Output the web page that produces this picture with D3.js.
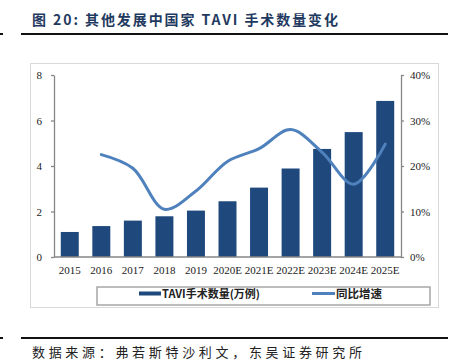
<!DOCTYPE html>
<html>
<head>
<meta charset="utf-8">
<script src="https://cdn.jsdelivr.net/npm/d3@7"></script>
<style>
  body { margin: 0; background: #fff; }
  svg { display: block; }
</style>
</head>
<body>
<svg width="449" height="364"></svg>
<script>
const years = ['2015', '2016', '2017', '2018', '2019', '2020E', '2021E', '2022E', '2023E', '2024E', '2025E'];
const volume = [1.10, 1.36, 1.60, 1.79, 2.04, 2.45, 3.05, 3.89, 4.75, 5.49, 6.86];
const growthYears = ['2016', '2017', '2018', '2019', '2020E', '2021E', '2022E', '2023E', '2024E', '2025E'];
const growth = [22.5, 19.5, 10.5, 14.5, 21.0, 23.8, 28.0, 23.0, 16.0, 24.8];
const leftTicks = [0, 2, 4, 6, 8];
const rightTicks = [0, 10, 20, 30, 40];

const barColor = '#1f497d';
const lineColor = '#4f81bd';
const axisColor = '#868686';
const serif = '"Liberation Serif", "Times New Roman", serif';
const cjk = '"Noto Sans CJK SC", sans-serif';

const svg = d3.select('svg');

// title + rules
svg.append('text')
    .attr('x', 32).attr('y', 25)
    .attr('font-family', cjk)
    .attr('font-weight', 'bold')
    .attr('font-size', 14)
    .attr('fill', '#1f3a60')
    .attr('textLength', 306)
    .attr('lengthAdjust', 'spacing')
    .text('图 20:  其他发展中国家 TAVI 手术数量变化');

[34, 338].forEach(y => {
    svg.append('line').attr('x1', 21).attr('x2', 448).attr('y1', y).attr('y2', y)
        .attr('stroke', '#111').attr('stroke-width', 2);
    svg.append('line').attr('x1', 0).attr('x2', 3).attr('y1', y).attr('y2', y)
        .attr('stroke', '#111').attr('stroke-width', 2);
});

svg.append('text')
    .attr('x', 32).attr('y', 357)
    .attr('font-family', cjk)
    .attr('font-size', 13)
    .attr('fill', '#222')
    .attr('textLength', 330)
    .attr('lengthAdjust', 'spacing')
    .text('数据来源：弗若斯特沙利文，东吴证券研究所');

// chart frame
svg.append('rect')
    .attr('x', 30.5).attr('y', 63.5).attr('width', 408).attr('height', 244)
    .attr('fill', 'none').attr('stroke', '#d9d9d9');

const plotL = 54, plotR = 401, plotT = 75, plotB = 257;

const x = d3.scaleBand()
    .domain(years)
    .range([plotL, plotR])
    .paddingInner(0.43)
    .paddingOuter(0.215);

const yL = d3.scaleLinear().domain([0, 8]).range([plotB, plotT]);
const yR = d3.scaleLinear().domain([0, 40]).range([plotB, plotT]);

// bars
svg.append('g')
    .attr('fill', barColor)
    .selectAll('rect')
    .data(volume)
    .join('rect')
    .attr('x', (d, i) => x(years[i]))
    .attr('y', d => yL(d))
    .attr('width', x.bandwidth())
    .attr('height', d => yL(0) - yL(d));

// growth line
const line = d3.line()
    .x((d, i) => x(growthYears[i]) + x.bandwidth() / 2)
    .y(d => yR(d))
    .curve(d3.curveCatmullRom.alpha(0.5));

svg.append('path')
    .datum(growth)
    .attr('d', line)
    .attr('fill', 'none')
    .attr('stroke', lineColor)
    .attr('stroke-width', 3)
    .attr('stroke-linecap', 'round');

// axes
function styleAxis(g) {
    g.select('.domain').attr('stroke', axisColor).attr('stroke-width', 1.3);
    g.selectAll('.tick line').attr('stroke', axisColor).attr('stroke-width', 1.3);
    g.selectAll('.tick text')
        .attr('font-family', serif)
        .attr('font-size', 11)
        .attr('fill', '#222');
}

svg.append('g')
    .attr('transform', `translate(${plotL},0)`)
    .call(d3.axisLeft(yL).tickValues(leftTicks).tickSize(3).tickSizeOuter(0).tickPadding(9))
    .call(styleAxis);

svg.append('g')
    .attr('transform', `translate(${plotR},0)`)
    .call(d3.axisRight(yR).tickValues(rightTicks).tickSize(3).tickSizeOuter(0).tickPadding(6)
        .tickFormat(d => d + '%'))
    .call(styleAxis);

const xAxis = svg.append('g')
    .attr('transform', `translate(0,${plotB})`)
    .call(d3.axisBottom(x).tickSize(0).tickSizeOuter(0).tickPadding(9))
    .call(styleAxis);
xAxis.select('.domain').attr('d', `M${plotL},0H${plotR}`);

// legend
svg.append('rect')
    .attr('x', 97).attr('y', 287).attr('width', 333).attr('height', 18)
    .attr('fill', '#fff').attr('stroke', '#a6a6a6').attr('stroke-width', 1.5);

svg.append('rect')
    .attr('x', 139).attr('y', 291.5).attr('width', 22).attr('height', 4)
    .attr('fill', barColor);
svg.append('text')
    .attr('x', 162).attr('y', 297.5)
    .attr('font-family', cjk)
    .attr('font-weight', 'bold')
    .attr('font-size', 11)
    .attr('fill', '#222')
    .text('TAVI手术数量(万例)');

svg.append('line')
    .attr('x1', 312).attr('x2', 335).attr('y1', 293.5).attr('y2', 293.5)
    .attr('stroke', lineColor).attr('stroke-width', 3);
svg.append('text')
    .attr('x', 336).attr('y', 297.5)
    .attr('font-family', cjk)
    .attr('font-weight', 'bold')
    .attr('font-size', 11.5)
    .attr('fill', '#222')
    .text('同比增速');
</script>
</body>
</html>
